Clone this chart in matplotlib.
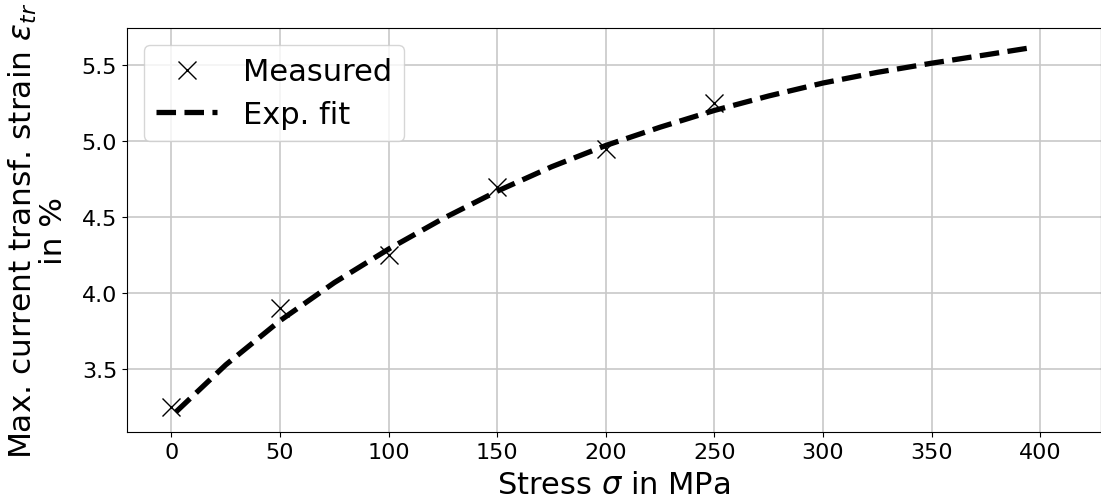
import numpy as np
import matplotlib
matplotlib.use('Agg')
import matplotlib.pyplot as plt

# measured points
stress_meas = [0, 50, 100, 150, 200, 250]
strain_meas = [3.25, 3.90, 4.25, 4.70, 4.95, 5.25]

# exp. fit curve
stress_fit = [2, 25, 50, 75, 100, 125, 150, 175, 200, 225, 250, 275, 300, 325, 350, 375, 395]
strain_fit = [3.22, 3.53, 3.82, 4.07, 4.29, 4.49, 4.67, 4.83, 4.97, 5.09, 5.20,
              5.295, 5.38, 5.45, 5.51, 5.565, 5.61]

fig = plt.figure(figsize=(11.01, 5.02), dpi=100)
ax = fig.add_axes([0.1153, 0.1368, 0.8847, 0.8048])

ax.plot(stress_meas, strain_meas, 'x', color='k', markersize=13, markeredgewidth=1.0,
        label='Measured', zorder=3)
ax.plot(stress_fit, strain_fit, '--', color='k', linewidth=3.8, label='Exp. fit', zorder=2)

ax.set_xlim(-20.5, 428)
ax.set_ylim(3.087, 5.739)
ax.set_xticks([0, 50, 100, 150, 200, 250, 300, 350, 400])
ax.set_yticks([3.5, 4.0, 4.5, 5.0, 5.5])
ax.tick_params(labelsize=16)
ax.grid(True, color='#c8c8c8', linewidth=1.2)
ax.set_axisbelow(True)

ax.set_xlabel(r'Stress $\sigma$ in MPa', fontsize=22, labelpad=6)
ax.set_ylabel('Max. current transf. strain $\\varepsilon_{tr}$\nin %', fontsize=22.5,
              linespacing=1.0, labelpad=10)

ax.legend(loc='upper left', fontsize=22, handlelength=2.0, handletextpad=0.85,
          borderaxespad=0.55, labelspacing=0.45)

fig.savefig('out.png', dpi=100)
